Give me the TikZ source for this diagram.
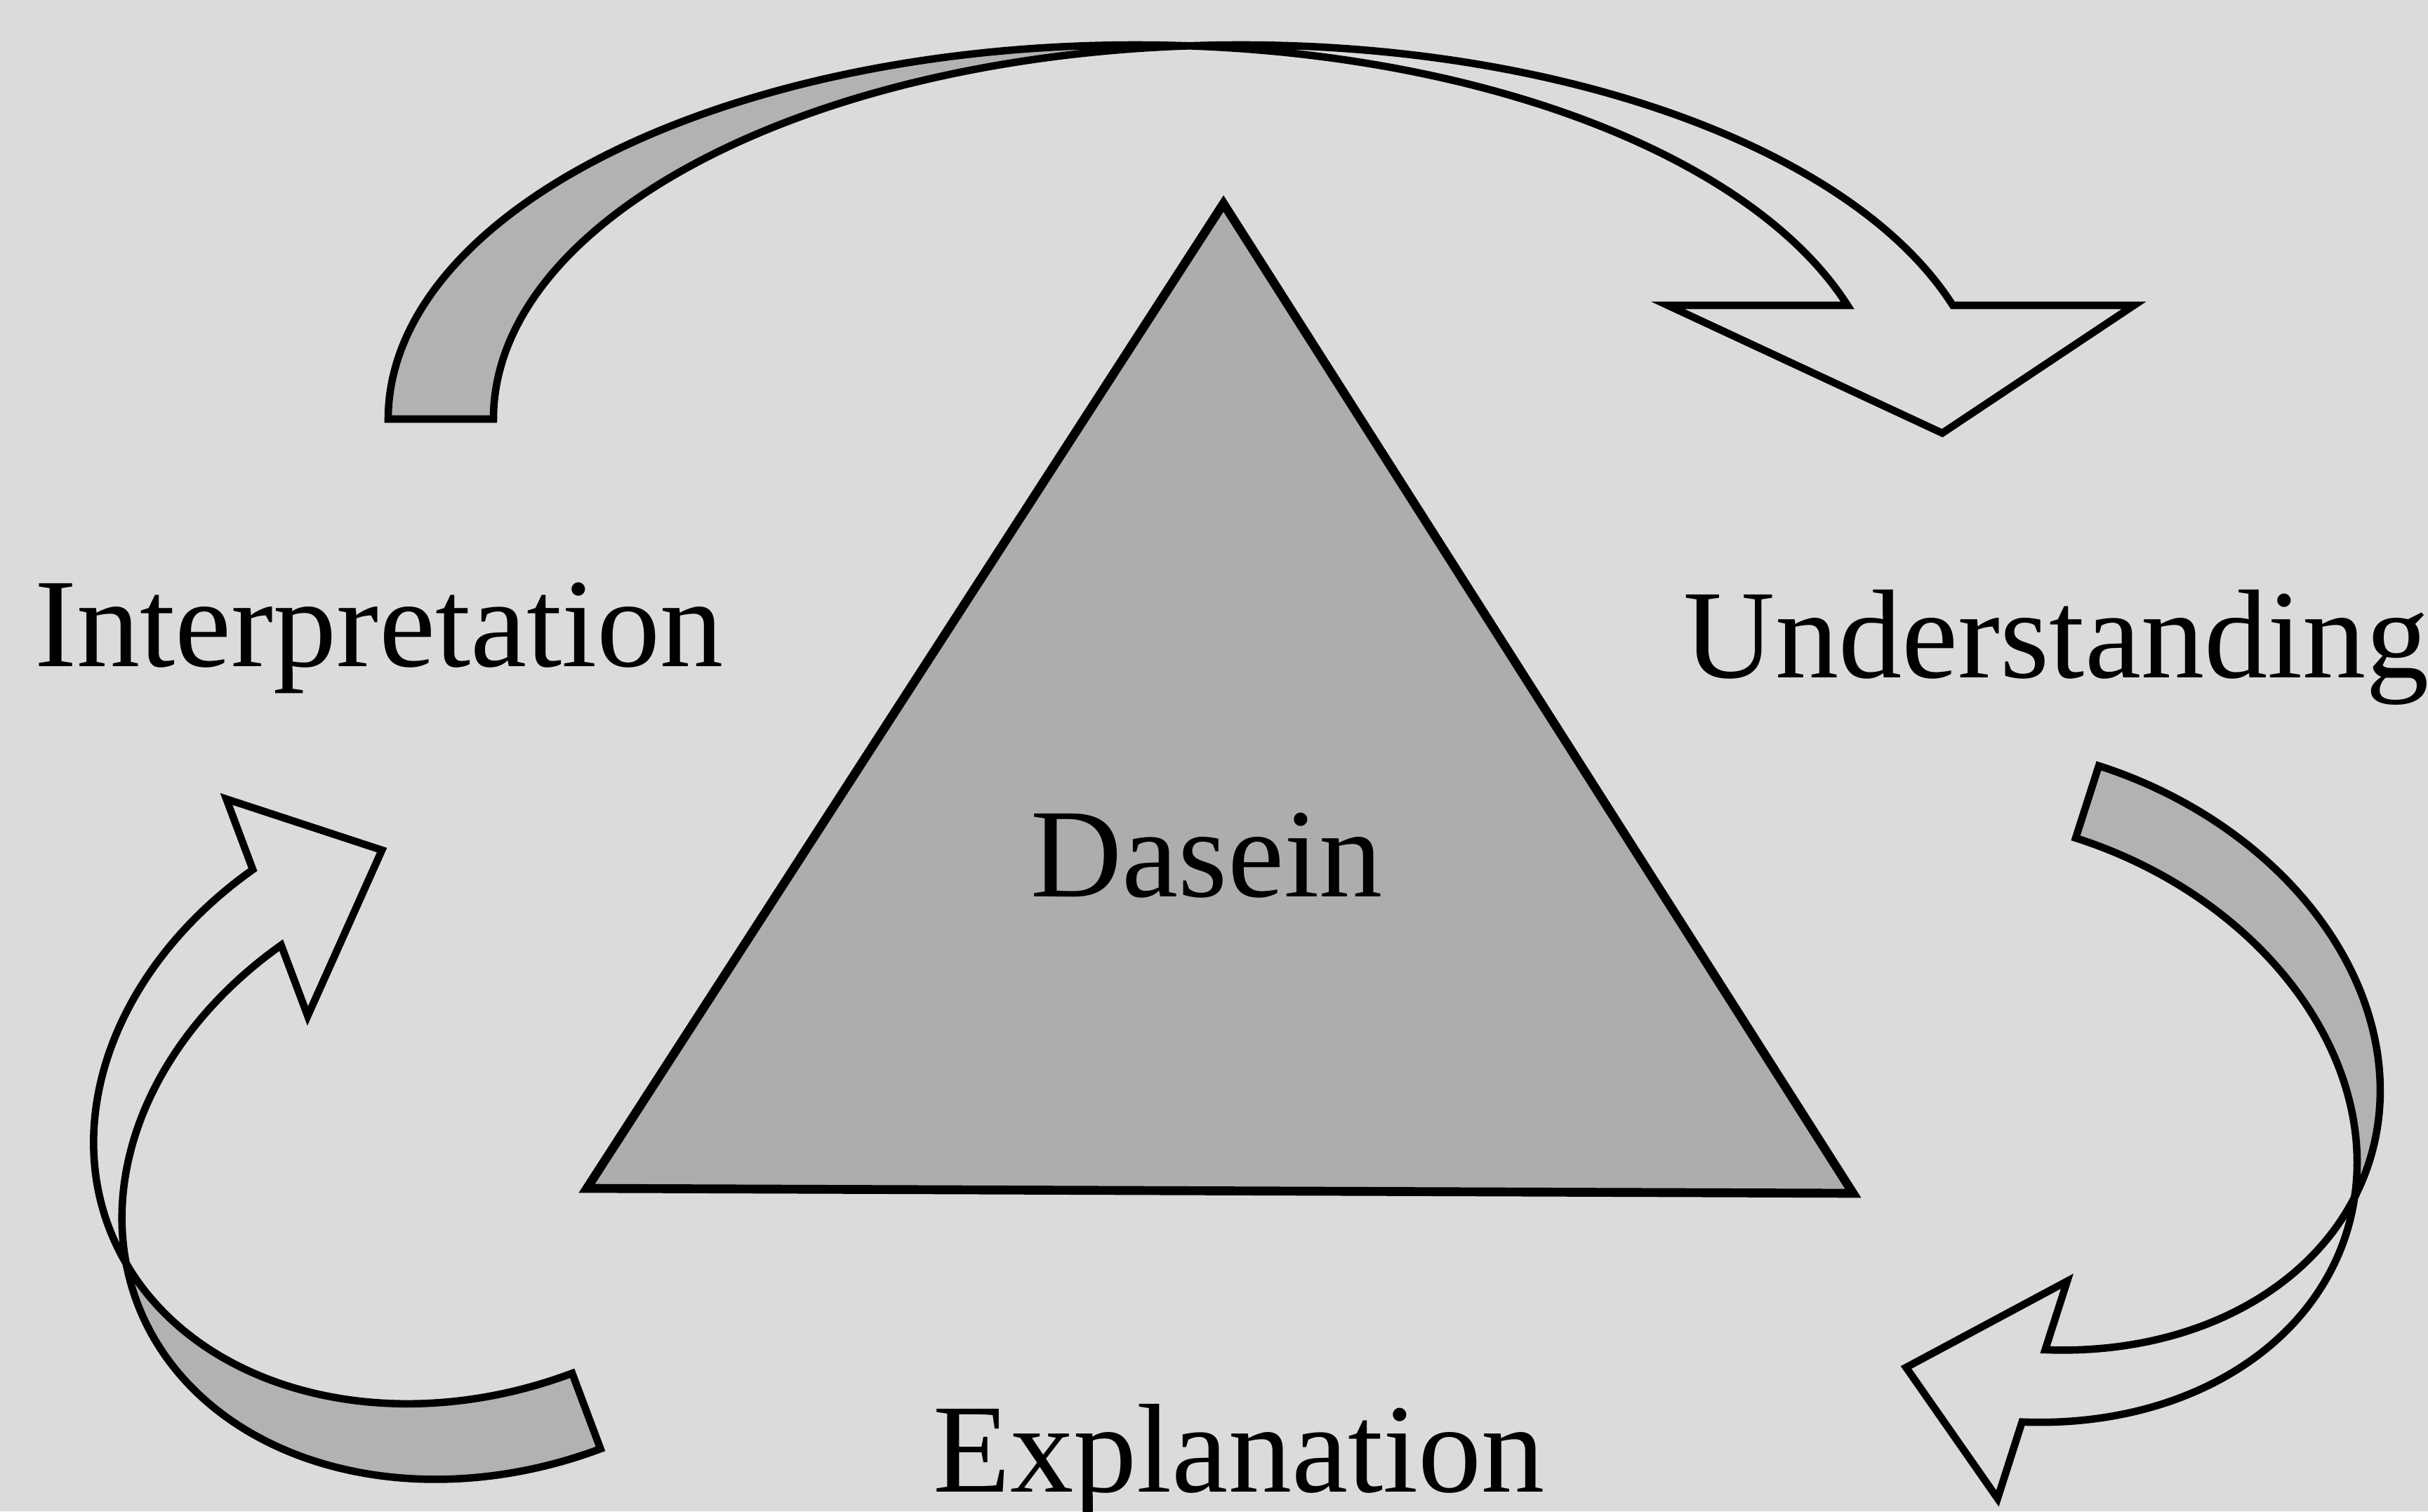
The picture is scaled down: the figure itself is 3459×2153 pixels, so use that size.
\documentclass[tikz,border=0pt]{standalone}
\usepackage{fontspec}
\setmainfont{Liberation Serif}
\definecolor{paper}{gray}{0.86}
\definecolor{shade}{gray}{0.70}
\definecolor{solid}{gray}{0.68}
\tikzset{
  label text/.style={inner sep=0pt, anchor=base, font=\fontsize{51.3}{60}\selectfont},
  ribbon/.style={draw=black, line width=3pt, line join=miter},
}
% Curved ribbon arrow in a local frame: tail end from (0,0) to (#1,0),
% the ribbon bulging towards +y and ending in a head on the far side.
% #1 thickness, #2 x radius, #3 y radius, #4 offset of the head base,
% #5/#6 barbs, #7/#8 tip.
\newcommand{\RibbonArrow}[8]{%
  \pgfmathsetmacro{\ribAngP}{acos(#1/(2*#2))}%
  \pgfmathsetmacro{\ribAngQ}{180-\ribAngP}%
  \pgfmathsetmacro{\ribAngH}{asin(#4/#3)}%
  \pgfmathsetmacro{\ribInner}{#2+#2*cos(\ribAngH)}%
  % back face
  \filldraw[ribbon, fill=shade] (0,0)
    arc[start angle=180, end angle=\ribAngP, x radius=#2, y radius=#3]
    arc[start angle=\ribAngQ, end angle=180, x radius=#2, y radius=#3] -- cycle;
  % front face with head
  \path (0,0) arc[start angle=180, end angle=\ribAngP, x radius=#2, y radius=#3]
    coordinate (ribP);
  \filldraw[ribbon, fill=paper] (ribP)
    arc[start angle=\ribAngQ, end angle=\ribAngH, x radius=#2, y radius=#3]
    -- (#6,#4) -- (#7,#8) -- (#5,#4) -- (\ribInner,#4)
    arc[start angle=\ribAngH, end angle=\ribAngP, x radius=#2, y radius=#3]
    -- cycle;
}
\begin{document}
\begin{tikzpicture}[x=0.01cm, y=0.01cm]
  \useasboundingbox (0,0) rectangle (3459,2153);
  \fill[paper] (0,0) rectangle (3459,2153);

  % central triangle
  \coordinate (apex) at (1743,1863);
  \coordinate (baseL) at (836,460);
  \coordinate (baseR) at (2640,453);
  \filldraw[fill=solid, draw=black, line width=3.6pt, line join=miter]
    (apex) -- (baseL) -- (baseR) -- cycle;
  \node[label text] (dasein) at (1719,875) {Dasein};

  % labels
  \node[label text] (interp) at (540,1203) {Interpretation};
  \node[label text] (under) at (2930,1187) {Understanding};
  \node[label text] (expl) at (1765,28) {Explanation};

  % Interpretation -> Understanding
  \begin{scope}[shift={(553,1556)}]
    \RibbonArrow{150}{1064.7}{533}{162}{1823}{2487}{2214}{-20}
  \end{scope}
  % Understanding -> Explanation
  \begin{scope}[shift={(2990,1062)}, rotate=-107.76]
    \RibbonArrow{108}{420}{539}{181}{713}{1038}{900}{0}
  \end{scope}
  % Explanation -> Interpretation
  \begin{scope}[shift={(855.5,89)}, rotate=110.56]
    \RibbonArrow{115}{427}{545}{174}{724}{1054}{908}{-8}
  \end{scope}
\end{tikzpicture}
\end{document}
